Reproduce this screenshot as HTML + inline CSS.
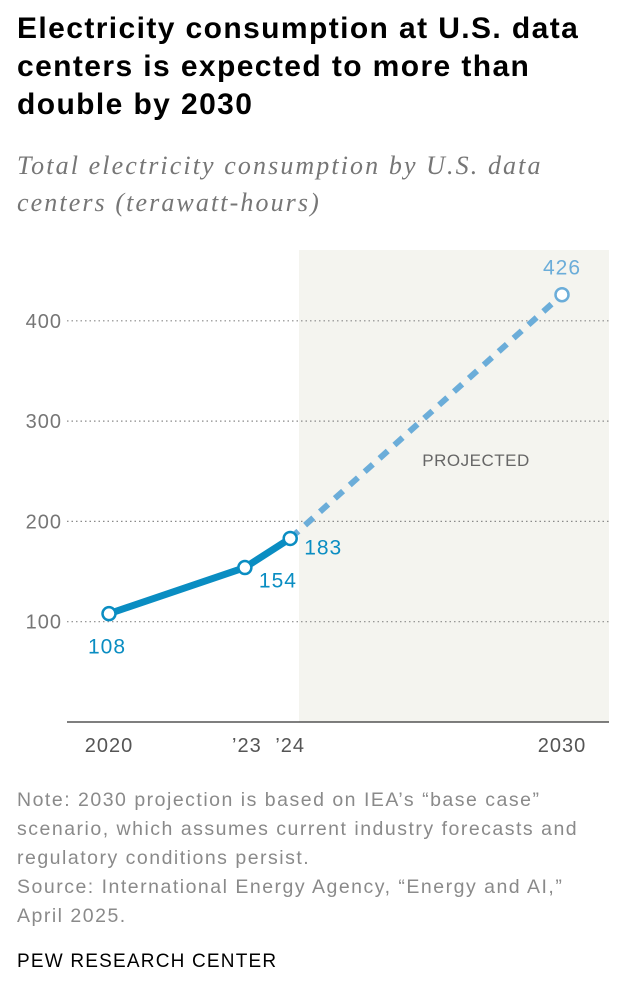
<!DOCTYPE html>
<html><head><meta charset="utf-8"><style>
body{margin:0;background:#fff;width:636px;height:990px;overflow:hidden;font-family:"Liberation Sans",sans-serif;}
.title{position:absolute;left:17px;top:10px;white-space:nowrap;font-weight:bold;font-size:30px;line-height:38px;color:#000;letter-spacing:1.4px}
.sub{position:absolute;left:17px;top:147px;white-space:nowrap;font-family:"Liberation Serif",serif;font-style:italic;font-size:26px;line-height:37px;color:#767676;letter-spacing:2.1px}
.note{position:absolute;left:17px;top:786px;white-space:nowrap;font-size:19.5px;line-height:29px;color:#8a8a8a;letter-spacing:1.5px}
.pew{position:absolute;left:17px;top:951px;font-size:19px;color:#000;letter-spacing:1.2px}
svg{position:absolute;left:0;top:0}
</style></head><body>
<div class="title">Electricity consumption at U.S. data<br>centers is expected to more than<br>double by 2030</div>
<div class="sub">Total electricity consumption by U.S. data<br>centers (terawatt-hours)</div>
<svg width="636" height="990" id="chart"></svg>
<div class="note">Note: 2030 projection is based on IEA’s “base case”<br>scenario, which assumes current industry forecasts and<br>regulatory conditions persist.<br>Source: International Energy Agency, “Energy and AI,”<br>April 2025.</div>
<div class="pew">PEW RESEARCH CENTER</div>
<script>
const years=[2020,2023,2024,2030];
const values=[108,154,183,426];
const yTicks=[100,200,300,400];
const xLabels=["2020","’23","’24","2030"];
const NS="http://www.w3.org/2000/svg";
const svg=document.getElementById('chart');
const x=yr=>109+(yr-2020)*45.3;
const y=v=>722-v*1.003;
function mk(t,a,p){const e=document.createElementNS(NS,t);for(const k in a)e.setAttribute(k,a[k]);(p||svg).appendChild(e);return e;}
const shade=mk('rect',{x:299,y:250,width:310,height:472,fill:'#f4f4ef'});


yTicks.forEach(t=>{
 const g=mk('line',{x1:67,x2:609,y1:y(t),y2:y(t),stroke:'#8a8a8a','stroke-width':1.2,'stroke-dasharray':'1.5 3'});
 
 
 const l=mk('text',{x:62,y:y(t)+7,'text-anchor':'end','font-size':20,fill:'#767676','letter-spacing':'1'});l.textContent=t;
 
 
});
const ax=mk('line',{x1:67,x2:609,y1:722,y2:722,stroke:'#333','stroke-width':1.2});


years.forEach((yr,i)=>{
 const l=mk('text',{x:x(yr)+(i==1?2:0),y:752,'text-anchor':'middle','font-size':20,fill:'#555','letter-spacing':'1'});l.textContent=xLabels[i];
 
 
});
const pl=mk('text',{x:476,y:466,'text-anchor':'middle','font-size':17,fill:'#666','letter-spacing':'0.5'});pl.textContent='PROJECTED';


const proj=mk('line',{x1:x(years[2]),y1:y(values[2]),x2:x(years[3]),y2:y(values[3]),stroke:'#6badd9','stroke-width':6,'stroke-dasharray':'11 9'});


const act=mk('polyline',{points:[0,1,2].map(i=>x(years[i])+','+y(values[i])).join(' '),fill:'none',stroke:'#0a8dc2','stroke-width':7,'stroke-linejoin':'round'});


const lo=[[0,-2,40],[1,14,20],[2,14,16],[3,0,-20]];
years.forEach((yr,i)=>{
 const col=i==3?'#6badd9':'#0a8dc2';
 const c=mk('circle',{cx:x(yr),cy:y(values[i]),r:6.5,fill:'#fff',stroke:col,'stroke-width':2.5});
 
 
 const t=mk('text',{x:x(yr)+lo[i][1],y:y(values[i])+lo[i][2],'text-anchor':i==0||i==3?'middle':'start','font-size':21,fill:col,'letter-spacing':'1'});t.textContent=values[i];
 
 
});
</script>
</body></html>
